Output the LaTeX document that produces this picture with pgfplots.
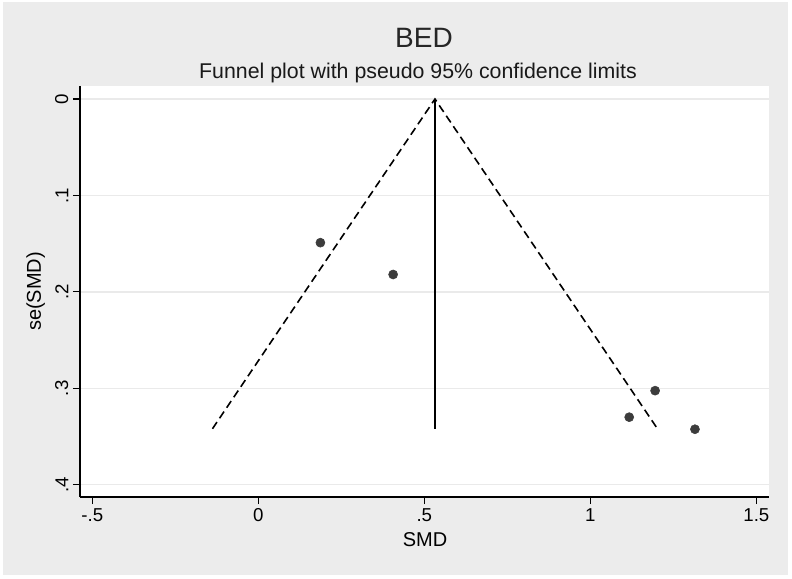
\documentclass[border=0pt]{standalone}
\usepackage{pgfplots}
\pgfplotsset{compat=1.18}
\usepackage{fontspec}
\setmainfont{Liberation Sans}
\definecolor{bggray}{RGB}{236,236,236}
\definecolor{gridgray}{RGB}{234,234,234}
\definecolor{markgray}{RGB}{60,60,60}
\begin{document}
\begin{tikzpicture}
\fill[white] (0pt,0pt) rectangle (594pt,433.5pt);
\fill[bggray] (2.25pt,2.25pt) rectangle (591pt,432pt);
\begin{axis}[
  at={(60pt,60.75pt)}, anchor=south west,
  scale only axis, width=516.75pt, height=308.25pt,
  xmin=-0.537, xmax=1.538,
  ymin=-0.0135, ymax=0.4128,
  y dir=reverse,
  axis background/.style={fill=white},
  axis x line*=bottom, axis y line*=left,
  axis line style={black, line width=0.9pt},
  xtick={-0.5,0,0.5,1,1.5},
  xticklabels={-.5,0,.5,1,1.5},
  ytick={0,0.1,0.2,0.3,0.4},
  yticklabels={0,.1,.2,.3,.4},
  tick align=outside,
  major tick length=5.25pt,
  tick style={black, line width=0.9pt},
  ticklabel style={font=\fontsize{14}{16}\selectfont},
  yticklabel style={rotate=90, anchor=south},
  ymajorgrids,
  grid style={gridgray, line width=1pt},
  clip=false,
]
\addplot[black, line width=1.2pt, dash pattern=on 6pt off 3.5pt] coordinates {(-0.138,0.342) (0.532,0) (1.202,0.342)};
\addplot[black, line width=1.2pt] coordinates {(0.532,0) (0.532,0.342)};
\addplot[only marks, mark=*, mark size=3.4pt, mark options={fill=markgray, draw=markgray}] coordinates {
(0.187,0.149) (0.406,0.182) (1.117,0.330) (1.195,0.3025) (1.315,0.3425)};
\end{axis}
\node[anchor=base, font=\fontsize{21}{24}\selectfont, text=black!85] at (318pt,397.7pt) {BED};
\node[anchor=base, font=\fontsize{16}{19}\selectfont, text=black!90] at (313.5pt,374.8pt) {Funnel plot with pseudo 95\% confidence limits};
\node[anchor=base, font=\fontsize{15}{18}\selectfont] at (318.75pt,23.5pt) {SMD};
\node[anchor=base, rotate=90, font=\fontsize{15}{18}\selectfont] at (30.75pt,214.9pt) {se(SMD)};
\pgfresetboundingbox
\useasboundingbox (0pt,0pt) rectangle (594pt,433.5pt);
\end{tikzpicture}
\end{document}
